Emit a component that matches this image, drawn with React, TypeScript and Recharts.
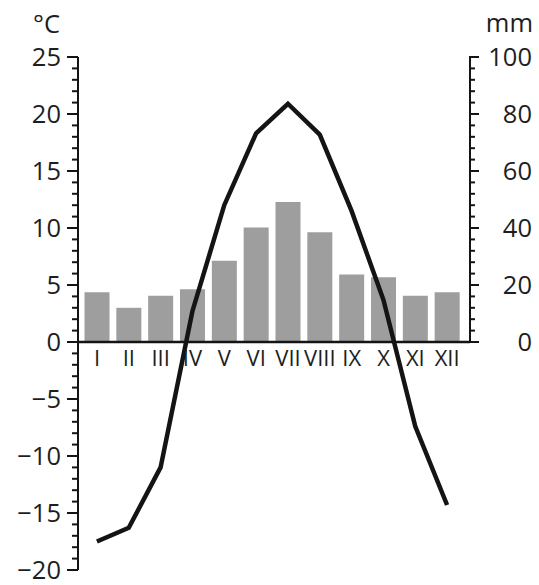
import { Bar, ComposedChart, LabelList, Line, XAxis, YAxis } from 'recharts';

const MONTHS = ['I', 'II', 'III', 'IV', 'V', 'VI', 'VII', 'VIII', 'IX', 'X', 'XI', 'XII'];
const TEMP = [-17.5, -16.3, -11, 2.7, 12, 18.3, 20.9, 18.2, 11.5, 3.7, -7.4, -14.3];
const PRECIP = [17.5, 12, 16.2, 18.5, 28.5, 40.2, 49.1, 38.5, 23.7, 22.7, 16.2, 17.5];
const TEMP_LABELS = [-20, -15, -10, -5, 0, 5, 10, 15, 20, 25];
const MM_LABELS = [0, 20, 40, 60, 80, 100];

const W = 539;
const H = 585;
const MARGIN = { top: 57, right: 0, bottom: 15, left: 0 };
const LEFT_W = 78;
const RIGHT_W = 69;
const PLOT_W = W - LEFT_W - RIGHT_W;
const PLOT_H = H - MARGIN.top - MARGIN.bottom;
const TEMP_DOMAIN: [number, number] = [-20, 25];
const MM_DOMAIN: [number, number] = [-80, 100];
const MM_MINOR = 4;
const MM_STEP_PX = (PLOT_H / (MM_DOMAIN[1] - MM_DOMAIN[0])) * MM_MINOR;

const INK = '#141414';
const TEXT = '#1e1e1e';
const BAR = '#9e9e9e';
const FONT = '"Open Sans", "Noto Sans", sans-serif';
const FS = 25.5;

const tempTicks = Array.from({ length: TEMP_DOMAIN[1] - TEMP_DOMAIN[0] + 1 }, (_, i) => TEMP_DOMAIN[0] + i);
const mmTicks = Array.from({ length: 100 / MM_MINOR + 1 }, (_, i) => i * MM_MINOR);

const data = MONTHS.map((month, i) => ({ month, temp: TEMP[i], precip: PRECIP[i] }));

const fmt = (v: number) => (v < 0 ? `\u2212${Math.abs(v)}` : String(v));

function TempTick({ x, y, payload }: any) {
  const v = payload.value as number;
  const major = TEMP_LABELS.includes(v);
  return (
    <g>
      {/* zero baseline across the plot */}
      {v === 0 && <line x1={x} x2={x + PLOT_W} y1={y} y2={y} stroke={INK} strokeWidth={2.5} />}
      <line x1={x - (major ? 11 : 6)} x2={x} y1={y} y2={y} stroke={INK} strokeWidth={2} />
      {major && (
        <text x={x - 17} y={y} dy="0.36em" textAnchor="end" fill={TEXT} fontSize={FS} fontFamily={FONT}>
          {fmt(v)}
        </text>
      )}
    </g>
  );
}

function MmTick({ x, y, payload }: any) {
  const v = payload.value as number;
  const major = MM_LABELS.includes(v);
  return (
    <g>
      {v > 0 && <line x1={x} x2={x} y1={y - 1} y2={y + MM_STEP_PX} stroke={INK} strokeWidth={2} />}
      <line x1={x} x2={x + (major ? 9 : 5)} y1={y} y2={y} stroke={INK} strokeWidth={2} />
      {major && (
        <text x={x + 62} y={y} dy="0.36em" textAnchor="end" fill={TEXT} fontSize={FS} fontFamily={FONT}>
          {v}
        </text>
      )}
    </g>
  );
}

export default function App() {
  return (
    <div style={{ position: 'absolute', left: 0, top: 0, background: '#fff' }}>
      <ComposedChart width={W} height={H} data={data} margin={MARGIN} barCategoryGap={3.5}>
        <XAxis dataKey="month" hide padding={{ left: 3, right: 7 }} />
        <YAxis
          yAxisId="t"
          orientation="left"
          width={LEFT_W}
          domain={TEMP_DOMAIN}
          ticks={tempTicks}
          interval={0}
          tickSize={0}
          tickMargin={0}
          tickLine={false}
          axisLine={{ stroke: INK, strokeWidth: 2 }}
          tick={<TempTick />}
          label={(p: any) => (
            <text
              x={p.viewBox.x + p.viewBox.width - 18}
              y={p.viewBox.y - 24}
              textAnchor="end"
              fill={TEXT}
              fontSize={FS}
              fontFamily={FONT}
            >
              °C
            </text>
          )}
        />
        <YAxis
          yAxisId="p"
          orientation="right"
          width={RIGHT_W}
          domain={MM_DOMAIN}
          ticks={mmTicks}
          interval={0}
          tickSize={0}
          tickMargin={0}
          tickLine={false}
          axisLine={false}
          tick={<MmTick />}
          label={(p: any) => (
            <text
              x={p.viewBox.x + 63}
              y={p.viewBox.y - 25}
              textAnchor="end"
              fill={TEXT}
              fontSize={FS}
              fontFamily={FONT}
            >
              mm
            </text>
          )}
        />
        <Bar yAxisId="p" dataKey="precip" fill={BAR} isAnimationActive={false}>
          <LabelList
            dataKey="month"
            position="bottom"
            offset={8}
            fill={TEXT}
            fontSize={22}
            fontFamily={FONT}
          />
        </Bar>
        <Line
          yAxisId="t"
          dataKey="temp"
          type="linear"
          stroke={INK}
          strokeWidth={4.5}
          dot={false}
          isAnimationActive={false}
        />
      </ComposedChart>
    </div>
  );
}
